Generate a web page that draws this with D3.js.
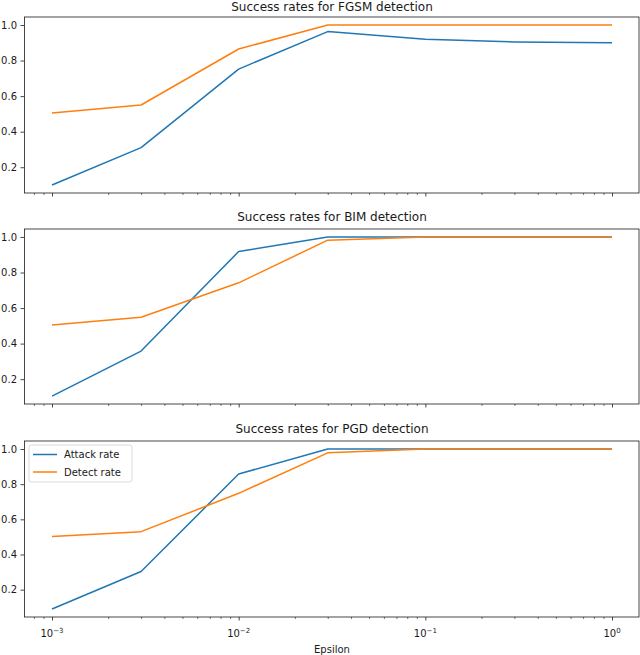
<!DOCTYPE html>
<html>
<head>
<meta charset="utf-8">
<script src="https://cdn.jsdelivr.net/npm/d3@7"></script>
<style>
  body { margin: 0; background: #fff; }
  text { font-family: "DejaVu Sans", sans-serif; fill: #1a1a1a; }
</style>
</head>
<body>
<div id="canvas"></div>
<script>
// values
var epsilons = [0.001, 0.003, 0.01, 0.03, 0.1, 0.3, 1.0];

var fgsmAttack = [0.10, 0.31, 0.752, 0.963, 0.92, 0.905, 0.90];
var fgsmDetect = [0.505, 0.55, 0.865, 1.0, 1.0, 1.0, 1.0];

var bimAttack = [0.105, 0.358, 0.918, 1.0, 1.0, 1.0, 1.0];
var bimDetect = [0.505, 0.548, 0.742, 0.982, 1.0, 1.0, 1.0];

var pgdAttack = [0.09, 0.303, 0.858, 1.0, 1.0, 1.0, 1.0];
var pgdDetect = [0.503, 0.53, 0.748, 0.978, 1.0, 1.0, 1.0];

var titles = ['Success rates for FGSM detection',
              'Success rates for BIM detection',
              'Success rates for PGD detection'];
var seriesNames = ['Attack rate', 'Detect rate'];
var colors = ['#1f77b4', '#ff7f0e'];
var yTicks = [0.2, 0.4, 0.6, 0.8, 1.0];
var xTicks = [0.001, 0.01, 0.1, 1];
var xExp = ['\u22123', '\u22122', '\u22121', '0'];

var panels = [
  {title: titles[0], series: [fgsmAttack, fgsmDetect], top: 17, bottom: 193},
  {title: titles[1], series: [bimAttack, bimDetect], top: 229, bottom: 404},
  {title: titles[2], series: [pgdAttack, pgdDetect], top: 441, bottom: 617}
];

var W = 640, H = 655, left = 24, right = 640;

var svg = d3.select('#canvas').append('svg')
  .attr('width', W).attr('height', H);

// log x with matplotlib style 5% margins (in decades)
var lo = Math.log10(d3.min(epsilons)), hi = Math.log10(d3.max(epsilons));
var pad = (hi - lo) * 0.05;
var x = d3.scaleLog()
  .domain([Math.pow(10, lo - pad), Math.pow(10, hi + pad)])
  .range([left, right]);

var minorTicks = [];
d3.range(-4, 1).forEach(function(e) {
  d3.range(2, 10).forEach(function(k) {
    var v = k * Math.pow(10, e);
    if (v >= x.domain()[0] && v <= x.domain()[1]) minorTicks.push(v);
  });
});

panels.forEach(function(p, i) {
  var all = d3.merge(p.series);
  var ymin = d3.min(all), ymax = d3.max(all), r = ymax - ymin;
  var y = d3.scaleLinear()
    .domain([ymin - 0.05 * r, ymax + 0.05 * r])
    .range([p.bottom, p.top]);

  var g = svg.append('g');

  var line = d3.line()
    .x(function(d, j) { return x(epsilons[j]); })
    .y(function(d) { return y(d); });

  p.series.forEach(function(s, k) {
    g.append('path')
      .datum(s)
      .attr('d', line)
      .attr('fill', 'none')
      .attr('stroke', colors[k])
      .attr('stroke-width', 1.5)
      .attr('stroke-linejoin', 'round');
  });

  // y axis
  var yAxis = g.append('g')
    .attr('transform', 'translate(' + left + ',0)')
    .call(d3.axisLeft(y).tickValues(yTicks).tickFormat(d3.format('.1f'))
      .tickSize(3.5).tickPadding(3.5));
  yAxis.select('.domain').remove();
  yAxis.selectAll('text').style('font-size', '10px')
    .style('font-family', '"DejaVu Sans", sans-serif').attr('fill', '#1a1a1a');
  yAxis.selectAll('line').attr('stroke', '#1a1a1a').attr('stroke-width', 0.8);

  // x axis, major + minor
  var xAxis = g.append('g')
    .attr('transform', 'translate(0,' + p.bottom + ')')
    .call(d3.axisBottom(x).tickValues(xTicks).tickFormat('')
      .tickSize(3.5).tickPadding(3.5));
  xAxis.select('.domain').remove();
  xAxis.selectAll('line').attr('stroke', '#1a1a1a').attr('stroke-width', 0.8);

  var xMinor = g.append('g')
    .attr('transform', 'translate(0,' + p.bottom + ')')
    .call(d3.axisBottom(x).tickValues(minorTicks).tickFormat('').tickSize(2));
  xMinor.select('.domain').remove();
  xMinor.selectAll('line').attr('stroke', '#1a1a1a').attr('stroke-width', 0.6);

  if (i === panels.length - 1) {
    xTicks.forEach(function(t, j) {
      var tx = g.append('text')
        .attr('x', x(t))
        .attr('y', p.bottom + 20)
        .attr('text-anchor', 'middle')
        .style('font-size', '10px');
      tx.append('tspan').text('10');
      tx.append('tspan').attr('dy', -4).style('font-size', '7px').text(xExp[j]);
    });
    g.append('text')
      .attr('x', (left + right) / 2)
      .attr('y', p.bottom + 36)
      .attr('text-anchor', 'middle')
      .style('font-size', '10px')
      .text('Epsilon');
  }

  // frame
  g.append('rect')
    .attr('x', left + 0.5).attr('y', p.top)
    .attr('width', right - left - 1.5).attr('height', p.bottom - p.top)
    .attr('fill', 'none').attr('stroke', '#1a1a1a').attr('stroke-width', 0.8);

  g.append('text')
    .attr('x', (left + right) / 2)
    .attr('y', Math.max(p.top - 8, 11))
    .attr('text-anchor', 'middle')
    .style('font-size', '12px')
    .text(p.title);

  if (i === panels.length - 1) {
    var lg = g.append('g').attr('transform', 'translate(29,' + (p.top + 4) + ')');
    lg.append('rect')
      .attr('width', 103).attr('height', 37).attr('rx', 2.5)
      .attr('fill', 'rgba(255,255,255,0.8)').attr('stroke', '#d0d0d0').attr('stroke-width', 0.8);
    seriesNames.forEach(function(n, k) {
      var ly = 9.5 + k * 17.5;
      lg.append('line')
        .attr('x1', 4).attr('x2', 28).attr('y1', ly).attr('y2', ly)
        .attr('stroke', colors[k]).attr('stroke-width', 1.5);
      lg.append('text')
        .attr('x', 35).attr('y', ly + 3.5)
        .style('font-size', '10px')
        .text(n);
    });
  }
});
</script>
</body>
</html>
